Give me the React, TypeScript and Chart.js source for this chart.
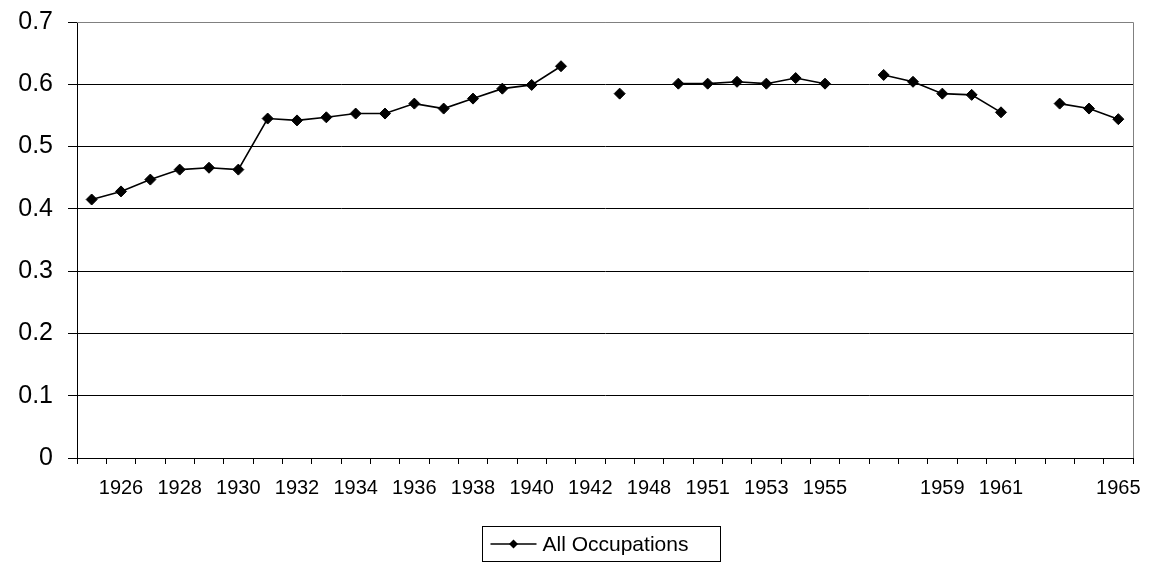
import React, { useEffect, useRef } from "react";
import { Chart, registerables } from "chart.js";

Chart.register(...registerables);

const tickLabels: string[] = [
  "", "1926", "", "1928", "", "1930", "", "1932", "", "1934", "", "1936",
  "", "1938", "", "1940", "", "1942", "", "1948", "", "1951", "", "1953",
  "", "1955", "", "", "", "1959", "", "1961", "", "", "", "1965",
];

const seriesName = "All Occupations";

const allOccupations: (number | null)[] = [
  0.415, 0.428, 0.447, 0.463, 0.466, 0.463, 0.545, 0.542, 0.547, 0.553, 0.553, 0.569,
  0.561, 0.577, 0.593, 0.599, 0.629, null, 0.585, null, 0.601, 0.601, 0.604, 0.601,
  0.61, 0.601, null, 0.615, 0.604, 0.585, 0.583, 0.555, null, 0.569, 0.561, 0.544,
];

const yMin = 0;
const yMax = 0.7;
const yStep = 0.1;

const FONT = "'Liberation Sans', Arial, sans-serif";

const framePlugin = {
  id: "frame",
  beforeDatasetsDraw(chart: any) {
    const { ctx, chartArea } = chart;
    ctx.save();
    ctx.strokeStyle = "#808080";
    ctx.lineWidth = 1;
    ctx.beginPath();
    ctx.moveTo(chartArea.left, Math.round(chartArea.top) + 0.5);
    ctx.lineTo(Math.round(chartArea.right) + 0.5, Math.round(chartArea.top) + 0.5);
    ctx.lineTo(Math.round(chartArea.right) + 0.5, chartArea.bottom);
    ctx.stroke();
    ctx.restore();
  },
};

const boxLegendPlugin = {
  id: "boxLegend",
  afterDraw(chart: any) {
    const { ctx } = chart;
    const ds = chart.data.datasets[0];
    const left = 482.5;
    const top = 526.5;
    const width = 238;
    const height = 35;
    const cy = top + height / 2;
    ctx.save();
    ctx.strokeStyle = "#000";
    ctx.lineWidth = 1;
    ctx.strokeRect(left, top, width, height);
    ctx.beginPath();
    ctx.lineWidth = 1.5;
    ctx.moveTo(left + 8, cy);
    ctx.lineTo(left + 54, cy);
    ctx.stroke();
    const mx = left + 31;
    const r = 4.5;
    ctx.fillStyle = "#000";
    ctx.beginPath();
    ctx.moveTo(mx - r, cy);
    ctx.lineTo(mx, cy - r);
    ctx.lineTo(mx + r, cy);
    ctx.lineTo(mx, cy + r);
    ctx.closePath();
    ctx.fill();
    ctx.font = `21px ${FONT}`;
    ctx.textBaseline = "middle";
    ctx.textAlign = "left";
    ctx.fillText(ds.label, left + 60, cy + 1);
    ctx.restore();
  },
};

export default function App() {
  const ref = useRef<HTMLCanvasElement | null>(null);

  useEffect(() => {
    if (!ref.current) return;
    const chart = new Chart(ref.current, {
      type: "line",
      data: {
        labels: tickLabels,
        datasets: [
          {
            label: seriesName,
            data: allOccupations,
            borderColor: "#000",
            backgroundColor: "#000",
            borderWidth: 1.6,
            pointStyle: "rectRot",
            pointRadius: 5.5,
            pointBorderWidth: 1,
            pointBorderColor: "#000",
            pointBackgroundColor: "#000",
            spanGaps: false,
            tension: 0,
          },
        ],
      },
      options: {
        responsive: false,
        animation: false,
        layout: { padding: { left: 0, right: 16, top: 22, bottom: 0 } },
        plugins: {
          legend: { display: false },
          tooltip: { enabled: false },
        },
        scales: {
          x: {
            type: "category",
            offset: true,
            grid: {
              offset: true,
              drawOnChartArea: false,
              drawTicks: true,
              tickLength: 6,
              color: "#000",
              tickColor: "#000",
            },
            border: { display: true, color: "#000", width: 1 },
            ticks: {
              autoSkip: false,
              maxRotation: 0,
              minRotation: 0,
              padding: 12,
              color: "#000",
              font: { family: FONT, size: 20 },
            },
            afterFit(scale: any) {
              scale.height = 108;
              scale.paddingLeft = 0;
              scale.paddingRight = 0;
              scale.paddingTop = 0;
              scale.paddingBottom = 0;
            },
          },
          y: {
            min: yMin,
            max: yMax,
            grid: {
              color: (c: any) =>
                c.tick && Math.abs(c.tick.value - yMax) < 1e-6 ? "#808080" : "#000",
              tickColor: "#000",
              tickLength: 9,
              lineWidth: 1,
            },
            border: { display: true, color: "#000", width: 1 },
            ticks: {
              stepSize: yStep,
              padding: 15,
              color: "#000",
              font: { family: FONT, size: 25 },
              callback: (v: any) => String(Number(Number(v).toFixed(1))),
            },
            afterFit(scale: any) {
              scale.width = 77;
              scale.paddingLeft = 0;
              scale.paddingRight = 0;
              scale.paddingTop = 0;
              scale.paddingBottom = 0;
            },
          },
        },
      },
      plugins: [framePlugin, boxLegendPlugin],
    });
    return () => chart.destroy();
  }, []);

  return (
    <div style={{ position: "absolute", left: 0, top: 0, width: 1149, height: 566, background: "#fff" }}>
      <canvas ref={ref} width={1149} height={566} style={{ display: "block" }} />
    </div>
  );
}
